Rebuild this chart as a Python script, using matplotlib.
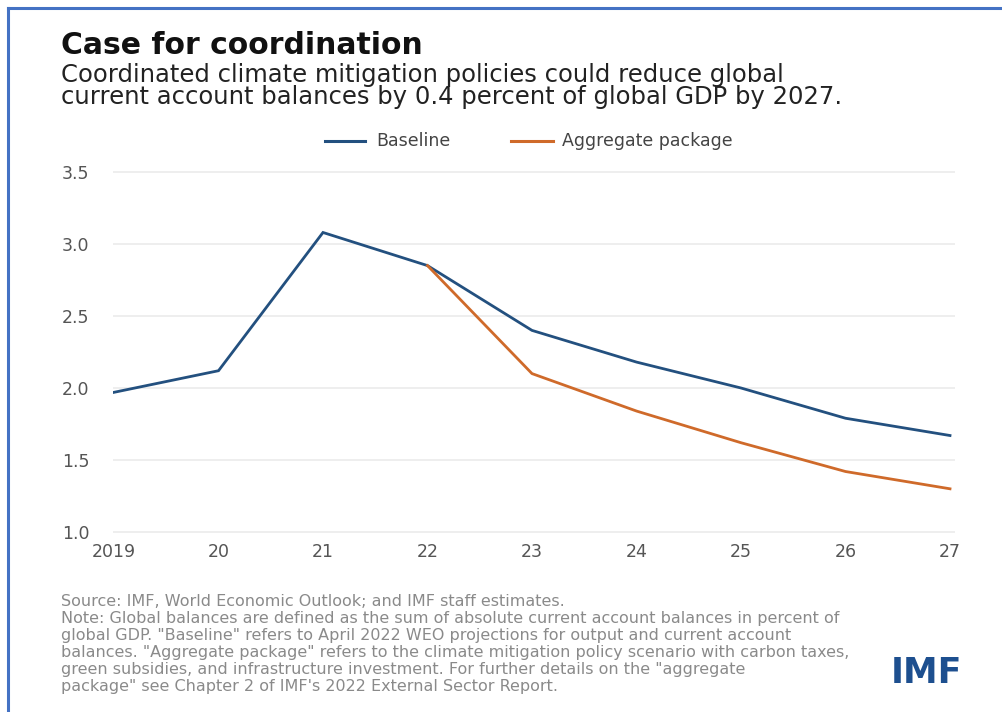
import matplotlib
matplotlib.use("Agg")
import matplotlib.pyplot as plt
from matplotlib.lines import Line2D

years = [2019, 2020, 2021, 2022, 2023, 2024, 2025, 2026, 2027]
year_labels = ["2019", "20", "21", "22", "23", "24", "25", "26", "27"]
baseline = [1.97, 2.12, 3.08, 2.85, 2.40, 2.18, 2.00, 1.79, 1.67]
agg_years = [2022, 2023, 2024, 2025, 2026, 2027]
aggregate = [2.85, 2.10, 1.84, 1.62, 1.42, 1.30]
yticks = [1.0, 1.5, 2.0, 2.5, 3.0, 3.5]
ytick_labels = ["1.0", "1.5", "2.0", "2.5", "3.0", "3.5"]

title = "Case for coordination"
subtitle_lines = ["Coordinated climate mitigation policies could reduce global",
                  "current account balances by 0.4 percent of global GDP by 2027."]
note_lines = ["Source: IMF, World Economic Outlook; and IMF staff estimates.",
              "Note: Global balances are defined as the sum of absolute current account balances in percent of",
              "global GDP. \"Baseline\" refers to April 2022 WEO projections for output and current account",
              "balances. \"Aggregate package\" refers to the climate mitigation policy scenario with carbon taxes,",
              "green subsidies, and infrastructure investment. For further details on the \"aggregate",
              "package\" see Chapter 2 of IMF's 2022 External Sector Report."]

plt.rcParams["font.family"] = ["DejaVu Sans"]
BLUE = "#23507f"
ORANGE = "#cf6a2a"
W, H = 1002, 712
fig = plt.figure(figsize=(W / 100, H / 100), dpi=100)
fig.patch.set_facecolor("white")

def fx(px):
    return px / W

def fy(py):
    return 1 - py / H

# frame border (blue lines on top and left)
fig.add_artist(Line2D([fx(8), fx(8)], [0, fy(8)], color="#4472c4", lw=2.2, transform=fig.transFigure))
fig.add_artist(Line2D([fx(8), 1], [fy(8), fy(8)], color="#4472c4", lw=2.2, transform=fig.transFigure))

# axes: y 1.0 at px 532, 3.5 at px 172; x 2019 at 114, 2027 at 950
y0p, y1p = 532, 172
ylo, yhi = 0.98, 3.52
ppu = (y0p - y1p) / 2.5
bottom_px = y0p + (1.0 - ylo) * ppu
top_px = y1p - (yhi - 3.5) * ppu
x0p, x1p = 114, 950
xlo, xhi = 2019 - 0.01, 2027 + 0.05
ppx = (x1p - x0p) / 8
left_px = x0p - (2019 - xlo) * ppx
right_px = x1p + (xhi - 2027) * ppx
ax = fig.add_axes([fx(left_px), fy(bottom_px), fx(right_px - left_px), (bottom_px - top_px) / H])
ax.set_xlim(xlo, xhi)
ax.set_ylim(ylo, yhi)
for s in ax.spines.values():
    s.set_visible(False)
ax.set_yticks(yticks)
ax.set_yticklabels(ytick_labels)
ax.set_xticks(years)
ax.set_xticklabels(year_labels)
ax.grid(axis="y", color="#ebebeb", lw=1.2)
ax.set_axisbelow(True)
ax.tick_params(axis="both", length=0, labelsize=12.5, labelcolor="#555555")
ax.tick_params(axis="y", pad=(left_px - 62) * 0.72)
ax.tick_params(axis="x", pad=6)
for lab in ax.get_yticklabels():
    lab.set_ha("left")

ax.plot(years, baseline, color=BLUE, lw=2.0, solid_joinstyle="miter")
ax.plot(agg_years, aggregate, color=ORANGE, lw=2.0)

# legend
fig.add_artist(Line2D([fx(325), fx(365)], [fy(141), fy(141)], color=BLUE, lw=2.2, transform=fig.transFigure))
fig.text(fx(376), fy(141), "Baseline", fontsize=12.5, color="#444444", va="center", ha="left")
fig.add_artist(Line2D([fx(511), fx(553)], [fy(141), fy(141)], color=ORANGE, lw=2.2, transform=fig.transFigure))
fig.text(fx(562), fy(141), "Aggregate package", fontsize=12.5, color="#444444", va="center", ha="left")

# title and subtitle
fig.text(fx(61), fy(54), title, fontsize=21.5, fontweight="bold", color="#111111", va="baseline")
for i, line in enumerate(subtitle_lines):
    fig.text(fx(61), fy(82 + 22 * i), line, fontsize=17.5, color="#222222", va="baseline")

# notes
for i, line in enumerate(note_lines):
    fig.text(fx(61), fy(606 + 17 * i), line, fontsize=11.5, color="#8a8a8a", va="baseline")

# IMF logo text
fig.text(fx(926), fy(683), "IMF", fontsize=25, fontweight="heavy", color="#1d4f8f", ha="center", va="baseline")

fig.savefig("out.png", dpi=100, facecolor="white")
